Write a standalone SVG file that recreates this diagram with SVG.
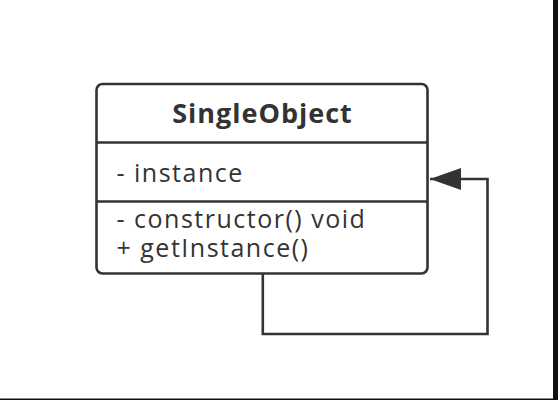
<svg xmlns="http://www.w3.org/2000/svg" width="558" height="400" viewBox="0 0 558 400">
  <style>
    .frame { fill: #ffffff; stroke: #333333; stroke-width: 2.6; }
    .rule { stroke: #333333; stroke-width: 2.6; fill: none; }
    .title { font-family: "Open Sans", "Noto Sans", sans-serif; font-weight: bold; font-size: 27px; letter-spacing: 1px; fill: #333333; text-anchor: middle; }
    .member { font-family: "Open Sans", "Noto Sans", sans-serif; font-size: 25px; letter-spacing: 1.5px; fill: #333333; }
    .link { stroke: #333333; stroke-width: 2.6; fill: none; }
  </style>
  <defs>
    <marker id="arrowhead" markerUnits="userSpaceOnUse" markerWidth="32" markerHeight="22" refX="31" refY="11" orient="auto">
      <path d="M0,0 L31,11 L0,22 Z" fill="#333333"/>
    </marker>
  </defs>
  <rect width="558" height="400" fill="#ffffff"/>
  <!-- window edge shadows -->
  <rect x="553" y="0" width="5" height="400" fill="#111111"/>
  <rect x="0" y="398.5" width="558" height="1.5" fill="#111111"/>

  <g id="SingleObject">
    <rect class="frame" x="96.5" y="84" width="331" height="189.5" rx="6" ry="6"/>
    <line class="rule" x1="96.5" y1="142.5" x2="427.5" y2="142.5"/>
    <line class="rule" x1="96.5" y1="201.5" x2="427.5" y2="201.5"/>
    <text class="title" x="262.5" y="123">SingleObject</text>
    <text class="member" x="116.5" y="182">- instance</text>
    <text class="member" x="116.5" y="228">- constructor() void</text>
    <text class="member" x="116.5" y="257">+ getInstance()</text>
  </g>

  <g id="connectors">
    <path class="link" d="M262.8,273.5 V334 H487.5 V179 H430" marker-end="url(#arrowhead)"/>
  </g>
</svg>
